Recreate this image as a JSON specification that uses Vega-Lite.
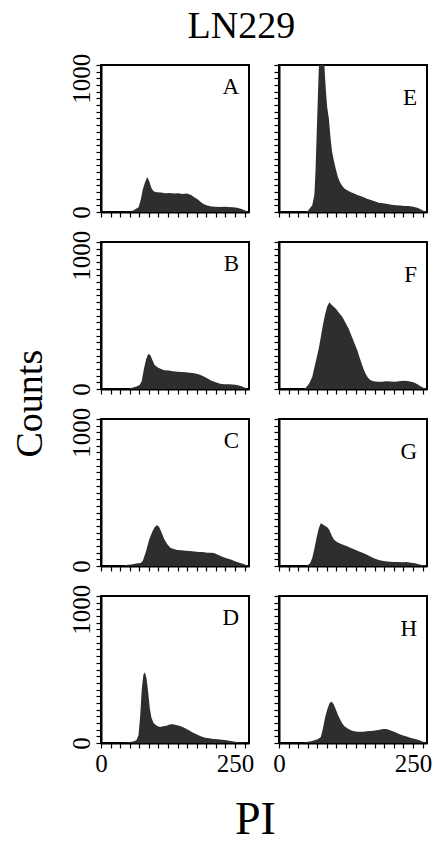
{
  "$schema": "https://vega.github.io/schema/vega-lite/v6.json",
  "padding": {"left": 12, "top": 8, "right": 5, "bottom": 5},
  "background": "white",
  "title": {"text": "Counts", "orient": "left", "anchor": "middle", "fontSize": 38, "font": "Liberation Serif", "fontWeight": "normal", "color": "black", "offset": -12, "baseline": "alphabetic", "dx": 22, "dy": 0, "frame": "bounds"},
  "datasets": {
    "h": [
      {"p":"A","x":0,"y":0},{"p":"A","x":52,"y":0},{"p":"A","x":58,"y":8},{"p":"A","x":64,"y":20},{"p":"A","x":70,"y":35},{"p":"A","x":74,"y":90},{"p":"A","x":78,"y":170},{"p":"A","x":82,"y":220},{"p":"A","x":86,"y":262},{"p":"A","x":90,"y":230},{"p":"A","x":94,"y":180},{"p":"A","x":98,"y":155},{"p":"A","x":104,"y":148},{"p":"A","x":112,"y":145},{"p":"A","x":120,"y":140},{"p":"A","x":128,"y":142},{"p":"A","x":136,"y":138},{"p":"A","x":144,"y":140},{"p":"A","x":152,"y":135},{"p":"A","x":160,"y":138},{"p":"A","x":168,"y":128},{"p":"A","x":174,"y":110},{"p":"A","x":180,"y":95},{"p":"A","x":186,"y":75},{"p":"A","x":192,"y":58},{"p":"A","x":198,"y":48},{"p":"A","x":206,"y":42},{"p":"A","x":214,"y":40},{"p":"A","x":222,"y":38},{"p":"A","x":230,"y":40},{"p":"A","x":238,"y":38},{"p":"A","x":246,"y":36},{"p":"A","x":254,"y":32},{"p":"A","x":262,"y":22},{"p":"A","x":270,"y":10},{"p":"A","x":276,"y":0},
      {"p":"B","x":0,"y":0},{"p":"B","x":52,"y":0},{"p":"B","x":58,"y":10},{"p":"B","x":66,"y":18},{"p":"B","x":72,"y":30},{"p":"B","x":76,"y":60},{"p":"B","x":80,"y":150},{"p":"B","x":84,"y":220},{"p":"B","x":88,"y":262},{"p":"B","x":92,"y":255},{"p":"B","x":96,"y":215},{"p":"B","x":100,"y":180},{"p":"B","x":106,"y":160},{"p":"B","x":112,"y":150},{"p":"B","x":118,"y":140},{"p":"B","x":126,"y":138},{"p":"B","x":134,"y":132},{"p":"B","x":142,"y":130},{"p":"B","x":150,"y":128},{"p":"B","x":158,"y":125},{"p":"B","x":166,"y":122},{"p":"B","x":174,"y":118},{"p":"B","x":182,"y":110},{"p":"B","x":190,"y":98},{"p":"B","x":198,"y":80},{"p":"B","x":206,"y":62},{"p":"B","x":214,"y":50},{"p":"B","x":222,"y":40},{"p":"B","x":230,"y":35},{"p":"B","x":238,"y":35},{"p":"B","x":246,"y":33},{"p":"B","x":254,"y":30},{"p":"B","x":262,"y":20},{"p":"B","x":270,"y":8},{"p":"B","x":276,"y":0},
      {"p":"C","x":0,"y":0},{"p":"C","x":40,"y":0},{"p":"C","x":46,"y":8},{"p":"C","x":56,"y":12},{"p":"C","x":66,"y":18},{"p":"C","x":74,"y":22},{"p":"C","x":78,"y":40},{"p":"C","x":84,"y":110},{"p":"C","x":90,"y":200},{"p":"C","x":96,"y":260},{"p":"C","x":100,"y":290},{"p":"C","x":104,"y":305},{"p":"C","x":108,"y":295},{"p":"C","x":112,"y":260},{"p":"C","x":118,"y":200},{"p":"C","x":124,"y":160},{"p":"C","x":130,"y":135},{"p":"C","x":136,"y":128},{"p":"C","x":142,"y":120},{"p":"C","x":150,"y":118},{"p":"C","x":158,"y":115},{"p":"C","x":166,"y":112},{"p":"C","x":174,"y":108},{"p":"C","x":182,"y":105},{"p":"C","x":190,"y":105},{"p":"C","x":198,"y":100},{"p":"C","x":206,"y":100},{"p":"C","x":212,"y":95},{"p":"C","x":218,"y":85},{"p":"C","x":226,"y":70},{"p":"C","x":234,"y":58},{"p":"C","x":242,"y":48},{"p":"C","x":250,"y":35},{"p":"C","x":258,"y":25},{"p":"C","x":266,"y":15},{"p":"C","x":272,"y":5},{"p":"C","x":276,"y":0},
      {"p":"D","x":0,"y":0},{"p":"D","x":40,"y":0},{"p":"D","x":50,"y":5},{"p":"D","x":60,"y":12},{"p":"D","x":66,"y":20},{"p":"D","x":70,"y":60},{"p":"D","x":73,"y":200},{"p":"D","x":76,"y":400},{"p":"D","x":79,"y":510},{"p":"D","x":82,"y":530},{"p":"D","x":85,"y":480},{"p":"D","x":88,"y":380},{"p":"D","x":91,"y":260},{"p":"D","x":94,"y":190},{"p":"D","x":98,"y":150},{"p":"D","x":104,"y":130},{"p":"D","x":110,"y":120},{"p":"D","x":116,"y":125},{"p":"D","x":122,"y":130},{"p":"D","x":128,"y":138},{"p":"D","x":134,"y":140},{"p":"D","x":140,"y":135},{"p":"D","x":146,"y":130},{"p":"D","x":152,"y":120},{"p":"D","x":158,"y":108},{"p":"D","x":164,"y":95},{"p":"D","x":170,"y":80},{"p":"D","x":178,"y":65},{"p":"D","x":186,"y":50},{"p":"D","x":194,"y":40},{"p":"D","x":202,"y":35},{"p":"D","x":210,"y":30},{"p":"D","x":218,"y":28},{"p":"D","x":226,"y":25},{"p":"D","x":234,"y":20},{"p":"D","x":242,"y":15},{"p":"D","x":250,"y":10},{"p":"D","x":258,"y":6},{"p":"D","x":266,"y":3},{"p":"D","x":276,"y":0},
      {"p":"E","x":0,"y":0},{"p":"E","x":48,"y":0},{"p":"E","x":54,"y":10},{"p":"E","x":58,"y":30},{"p":"E","x":62,"y":50},{"p":"E","x":66,"y":130},{"p":"E","x":68,"y":300},{"p":"E","x":70,"y":550},{"p":"E","x":72,"y":800},{"p":"E","x":74,"y":1050},{"p":"E","x":76,"y":1180},{"p":"E","x":80,"y":1220},{"p":"E","x":84,"y":1150},{"p":"E","x":86,"y":1000},{"p":"E","x":88,"y":880},{"p":"E","x":90,"y":780},{"p":"E","x":93,"y":700},{"p":"E","x":96,"y":560},{"p":"E","x":99,"y":450},{"p":"E","x":102,"y":390},{"p":"E","x":106,"y":320},{"p":"E","x":110,"y":260},{"p":"E","x":114,"y":220},{"p":"E","x":118,"y":195},{"p":"E","x":122,"y":175},{"p":"E","x":128,"y":160},{"p":"E","x":134,"y":148},{"p":"E","x":140,"y":138},{"p":"E","x":146,"y":128},{"p":"E","x":152,"y":120},{"p":"E","x":158,"y":110},{"p":"E","x":164,"y":100},{"p":"E","x":170,"y":92},{"p":"E","x":178,"y":80},{"p":"E","x":186,"y":70},{"p":"E","x":194,"y":65},{"p":"E","x":202,"y":60},{"p":"E","x":210,"y":55},{"p":"E","x":218,"y":50},{"p":"E","x":226,"y":48},{"p":"E","x":234,"y":45},{"p":"E","x":242,"y":45},{"p":"E","x":250,"y":40},{"p":"E","x":258,"y":32},{"p":"E","x":264,"y":20},{"p":"E","x":270,"y":8},{"p":"E","x":276,"y":0},
      {"p":"F","x":0,"y":0},{"p":"F","x":44,"y":0},{"p":"F","x":50,"y":10},{"p":"F","x":56,"y":40},{"p":"F","x":62,"y":90},{"p":"F","x":66,"y":160},{"p":"F","x":70,"y":230},{"p":"F","x":74,"y":300},{"p":"F","x":78,"y":390},{"p":"F","x":82,"y":480},{"p":"F","x":86,"y":560},{"p":"F","x":90,"y":620},{"p":"F","x":94,"y":650},{"p":"F","x":98,"y":630},{"p":"F","x":102,"y":615},{"p":"F","x":106,"y":600},{"p":"F","x":110,"y":580},{"p":"F","x":114,"y":560},{"p":"F","x":118,"y":540},{"p":"F","x":122,"y":510},{"p":"F","x":126,"y":480},{"p":"F","x":130,"y":450},{"p":"F","x":134,"y":410},{"p":"F","x":138,"y":370},{"p":"F","x":142,"y":330},{"p":"F","x":146,"y":290},{"p":"F","x":150,"y":240},{"p":"F","x":154,"y":190},{"p":"F","x":158,"y":145},{"p":"F","x":162,"y":110},{"p":"F","x":166,"y":85},{"p":"F","x":170,"y":68},{"p":"F","x":176,"y":58},{"p":"F","x":184,"y":55},{"p":"F","x":192,"y":55},{"p":"F","x":200,"y":58},{"p":"F","x":208,"y":56},{"p":"F","x":216,"y":55},{"p":"F","x":224,"y":58},{"p":"F","x":232,"y":62},{"p":"F","x":240,"y":60},{"p":"F","x":246,"y":55},{"p":"F","x":252,"y":48},{"p":"F","x":258,"y":35},{"p":"F","x":264,"y":20},{"p":"F","x":270,"y":8},{"p":"F","x":276,"y":0},
      {"p":"G","x":0,"y":0},{"p":"G","x":48,"y":0},{"p":"G","x":54,"y":8},{"p":"G","x":58,"y":20},{"p":"G","x":62,"y":60},{"p":"G","x":66,"y":130},{"p":"G","x":70,"y":210},{"p":"G","x":74,"y":280},{"p":"G","x":78,"y":320},{"p":"G","x":82,"y":310},{"p":"G","x":86,"y":300},{"p":"G","x":90,"y":290},{"p":"G","x":94,"y":270},{"p":"G","x":98,"y":230},{"p":"G","x":102,"y":200},{"p":"G","x":106,"y":185},{"p":"G","x":110,"y":175},{"p":"G","x":116,"y":165},{"p":"G","x":122,"y":155},{"p":"G","x":128,"y":145},{"p":"G","x":134,"y":135},{"p":"G","x":140,"y":125},{"p":"G","x":146,"y":115},{"p":"G","x":152,"y":105},{"p":"G","x":158,"y":95},{"p":"G","x":164,"y":85},{"p":"G","x":170,"y":72},{"p":"G","x":176,"y":60},{"p":"G","x":182,"y":50},{"p":"G","x":190,"y":42},{"p":"G","x":198,"y":35},{"p":"G","x":206,"y":32},{"p":"G","x":214,"y":30},{"p":"G","x":222,"y":30},{"p":"G","x":230,"y":28},{"p":"G","x":238,"y":30},{"p":"G","x":246,"y":25},{"p":"G","x":254,"y":20},{"p":"G","x":262,"y":12},{"p":"G","x":270,"y":5},{"p":"G","x":276,"y":0},
      {"p":"H","x":0,"y":0},{"p":"H","x":44,"y":0},{"p":"H","x":50,"y":8},{"p":"H","x":58,"y":12},{"p":"H","x":66,"y":20},{"p":"H","x":72,"y":28},{"p":"H","x":78,"y":45},{"p":"H","x":82,"y":110},{"p":"H","x":86,"y":190},{"p":"H","x":90,"y":250},{"p":"H","x":94,"y":295},{"p":"H","x":98,"y":310},{"p":"H","x":102,"y":290},{"p":"H","x":106,"y":250},{"p":"H","x":110,"y":210},{"p":"H","x":114,"y":175},{"p":"H","x":118,"y":145},{"p":"H","x":122,"y":125},{"p":"H","x":128,"y":108},{"p":"H","x":134,"y":95},{"p":"H","x":140,"y":88},{"p":"H","x":146,"y":85},{"p":"H","x":152,"y":85},{"p":"H","x":158,"y":85},{"p":"H","x":164,"y":88},{"p":"H","x":170,"y":90},{"p":"H","x":176,"y":92},{"p":"H","x":182,"y":95},{"p":"H","x":188,"y":100},{"p":"H","x":194,"y":105},{"p":"H","x":200,"y":105},{"p":"H","x":206,"y":98},{"p":"H","x":212,"y":88},{"p":"H","x":218,"y":78},{"p":"H","x":224,"y":68},{"p":"H","x":230,"y":58},{"p":"H","x":238,"y":48},{"p":"H","x":246,"y":38},{"p":"H","x":254,"y":30},{"p":"H","x":262,"y":20},{"p":"H","x":270,"y":8},{"p":"H","x":276,"y":0}
    ]
  },
  "vconcat": [{
    "title": {"text": "LN229", "orient": "top", "anchor": "middle", "fontSize": 38, "font": "Liberation Serif", "fontWeight": "normal", "color": "black", "offset": -24, "baseline": "alphabetic", "dx": -9, "dy": 0, "frame": "bounds"},
    "vconcat": [{
      "title": {"text": "PI", "orient": "bottom", "anchor": "middle", "fontSize": 46, "font": "Liberation Serif", "fontWeight": "normal", "color": "black", "offset": 21, "baseline": "top", "dx": 5, "dy": 0, "frame": "bounds"},
      "columns": 2,
      "spacing": 30,
      "bounds": "flush",
      "concat": [
        {"width": 148, "height": 147, "title": {"text": "A"}, "data": {"name": "h"}, "transform": [{"filter": "datum.p == 'A'"}],
         "mark": {"type": "area", "color": "#2e2e2e", "clip": true},
         "encoding": {
           "x": {"field": "x", "type": "quantitative", "scale": {"domain": [0, 276], "nice": false, "zero": false}, "axis": {"title": null, "labels": false, "values": [0,17.857142857,35.714285714,53.571428571,71.428571429,89.285714286,107.142857143,125,142.857142857,160.714285714,178.571428571,196.428571429,214.285714286,232.142857143,250,267.857142857]}},
           "y": {"field": "y", "type": "quantitative", "scale": {"domain": [0, 1100], "nice": false}, "axis": {"title": null, "format": "d", "labelExpr": "datum.value == 0 || datum.value == 1000 ? datum.label : ''", "values": [0,50,100,150,200,250,300,350,400,450,500,550,600,650,700,750,800,850,900,950,1000,1050,1100]}}
         }},
        {"width": 148, "height": 147, "title": {"text": "E"}, "data": {"name": "h"}, "transform": [{"filter": "datum.p == 'E'"}],
         "mark": {"type": "area", "color": "#2e2e2e", "clip": true},
         "encoding": {
           "x": {"field": "x", "type": "quantitative", "scale": {"domain": [0, 276], "nice": false, "zero": false}, "axis": {"title": null, "labels": false, "values": [0,17.857142857,35.714285714,53.571428571,71.428571429,89.285714286,107.142857143,125,142.857142857,160.714285714,178.571428571,196.428571429,214.285714286,232.142857143,250,267.857142857]}},
           "y": {"field": "y", "type": "quantitative", "scale": {"domain": [0, 1100], "nice": false}, "axis": {"title": null, "labels": false, "values": [0,50,100,150,200,250,300,350,400,450,500,550,600,650,700,750,800,850,900,950,1000,1050,1100]}}
         }},
        {"width": 148, "height": 147, "title": {"text": "B"}, "data": {"name": "h"}, "transform": [{"filter": "datum.p == 'B'"}],
         "mark": {"type": "area", "color": "#2e2e2e", "clip": true},
         "encoding": {
           "x": {"field": "x", "type": "quantitative", "scale": {"domain": [0, 276], "nice": false, "zero": false}, "axis": {"title": null, "labels": false, "values": [0,17.857142857,35.714285714,53.571428571,71.428571429,89.285714286,107.142857143,125,142.857142857,160.714285714,178.571428571,196.428571429,214.285714286,232.142857143,250,267.857142857]}},
           "y": {"field": "y", "type": "quantitative", "scale": {"domain": [0, 1100], "nice": false}, "axis": {"title": null, "format": "d", "labelExpr": "datum.value == 0 || datum.value == 1000 ? datum.label : ''", "values": [0,50,100,150,200,250,300,350,400,450,500,550,600,650,700,750,800,850,900,950,1000,1050,1100]}}
         }},
        {"width": 148, "height": 147, "title": {"text": "F"}, "data": {"name": "h"}, "transform": [{"filter": "datum.p == 'F'"}],
         "mark": {"type": "area", "color": "#2e2e2e", "clip": true},
         "encoding": {
           "x": {"field": "x", "type": "quantitative", "scale": {"domain": [0, 276], "nice": false, "zero": false}, "axis": {"title": null, "labels": false, "values": [0,17.857142857,35.714285714,53.571428571,71.428571429,89.285714286,107.142857143,125,142.857142857,160.714285714,178.571428571,196.428571429,214.285714286,232.142857143,250,267.857142857]}},
           "y": {"field": "y", "type": "quantitative", "scale": {"domain": [0, 1100], "nice": false}, "axis": {"title": null, "labels": false, "values": [0,50,100,150,200,250,300,350,400,450,500,550,600,650,700,750,800,850,900,950,1000,1050,1100]}}
         }},
        {"width": 148, "height": 147, "title": {"text": "C"}, "data": {"name": "h"}, "transform": [{"filter": "datum.p == 'C'"}],
         "mark": {"type": "area", "color": "#2e2e2e", "clip": true},
         "encoding": {
           "x": {"field": "x", "type": "quantitative", "scale": {"domain": [0, 276], "nice": false, "zero": false}, "axis": {"title": null, "labels": false, "values": [0,17.857142857,35.714285714,53.571428571,71.428571429,89.285714286,107.142857143,125,142.857142857,160.714285714,178.571428571,196.428571429,214.285714286,232.142857143,250,267.857142857]}},
           "y": {"field": "y", "type": "quantitative", "scale": {"domain": [0, 1100], "nice": false}, "axis": {"title": null, "format": "d", "labelExpr": "datum.value == 0 || datum.value == 1000 ? datum.label : ''", "values": [0,50,100,150,200,250,300,350,400,450,500,550,600,650,700,750,800,850,900,950,1000,1050,1100]}}
         }},
        {"width": 148, "height": 147, "title": {"text": "G"}, "data": {"name": "h"}, "transform": [{"filter": "datum.p == 'G'"}],
         "mark": {"type": "area", "color": "#2e2e2e", "clip": true},
         "encoding": {
           "x": {"field": "x", "type": "quantitative", "scale": {"domain": [0, 276], "nice": false, "zero": false}, "axis": {"title": null, "labels": false, "values": [0,17.857142857,35.714285714,53.571428571,71.428571429,89.285714286,107.142857143,125,142.857142857,160.714285714,178.571428571,196.428571429,214.285714286,232.142857143,250,267.857142857]}},
           "y": {"field": "y", "type": "quantitative", "scale": {"domain": [0, 1100], "nice": false}, "axis": {"title": null, "labels": false, "values": [0,50,100,150,200,250,300,350,400,450,500,550,600,650,700,750,800,850,900,950,1000,1050,1100]}}
         }},
        {"width": 148, "height": 147, "title": {"text": "D"}, "data": {"name": "h"}, "transform": [{"filter": "datum.p == 'D'"}],
         "mark": {"type": "area", "color": "#2e2e2e", "clip": true},
         "encoding": {
           "x": {"field": "x", "type": "quantitative", "scale": {"domain": [0, 276], "nice": false, "zero": false}, "axis": {"title": null, "format": "d", "labelExpr": "datum.value == 0 || datum.value == 250 ? datum.label : ''", "values": [0,17.857142857,35.714285714,53.571428571,71.428571429,89.285714286,107.142857143,125,142.857142857,160.714285714,178.571428571,196.428571429,214.285714286,232.142857143,250,267.857142857]}},
           "y": {"field": "y", "type": "quantitative", "scale": {"domain": [0, 1100], "nice": false}, "axis": {"title": null, "format": "d", "labelExpr": "datum.value == 0 || datum.value == 1000 ? datum.label : ''", "values": [0,50,100,150,200,250,300,350,400,450,500,550,600,650,700,750,800,850,900,950,1000,1050,1100]}}
         }},
        {"width": 148, "height": 147, "title": {"text": "H"}, "data": {"name": "h"}, "transform": [{"filter": "datum.p == 'H'"}],
         "mark": {"type": "area", "color": "#2e2e2e", "clip": true},
         "encoding": {
           "x": {"field": "x", "type": "quantitative", "scale": {"domain": [0, 276], "nice": false, "zero": false}, "axis": {"title": null, "format": "d", "labelExpr": "datum.value == 0 || datum.value == 250 ? datum.label : ''", "values": [0,17.857142857,35.714285714,53.571428571,71.428571429,89.285714286,107.142857143,125,142.857142857,160.714285714,178.571428571,196.428571429,214.285714286,232.142857143,250,267.857142857]}},
           "y": {"field": "y", "type": "quantitative", "scale": {"domain": [0, 1100], "nice": false}, "axis": {"title": null, "labels": false, "values": [0,50,100,150,200,250,300,350,400,450,500,550,600,650,700,750,800,850,900,950,1000,1050,1100]}}
         }}
      ]
    }]
  }],
  "config": {
    "font": "Liberation Serif",
    "view": {"stroke": "black", "strokeWidth": 2},
    "axis": {"domainColor": "black", "domainWidth": 2, "tickColor": "black", "tickWidth": 1.2, "tickSize": 5, "grid": false, "labelFont": "Liberation Serif", "labelFontSize": 25, "labelColor": "black", "labelOverlap": false, "labelFlush": false, "labelPadding": 3},
    "axisY": {"labelAngle": -90, "labelAlign": "center", "labelBaseline": "bottom", "labelPadding": 2},
    "title": {"font": "Liberation Serif", "fontWeight": "normal", "color": "black", "anchor": "end", "frame": "group", "fontSize": 23, "offset": 0, "dy": 50, "dx": -10, "baseline": "alphabetic"}
  }
}
